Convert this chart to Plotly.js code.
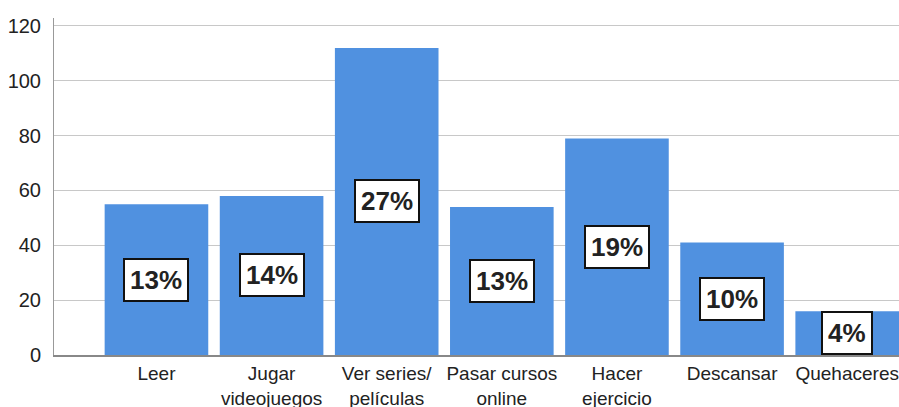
<!DOCTYPE html>
<html><head><meta charset="utf-8">
<script src="https://cdn.plot.ly/plotly-3.0.1.min.js"></script>
<style>html,body{margin:0;padding:0;background:#fff}#chart{width:899px;height:407px}</style>
</head><body><div id="chart"></div>
<script>
const categories = ["Leer","Jugar<br>videojuegos","Ver series/<br>películas","Pasar cursos<br>online","Hacer<br>ejercicio","Descansar","Quehaceres"];
const values = [55, 58, 112, 54, 79, 41, 16];
const percentLabels = ["13%","14%","27%","13%","19%","10%","4%"];
const yTicks = [0,20,40,60,80,100,120];

const trace = {
  type: 'bar', x: categories, y: values,
  marker: {color: '#5091e0'}, hoverinfo: 'none'
};
const annotations = categories.map((c,i)=>({
  x: c, y: values[i]/2, xref:'x', yref:'y', text: '<b>'+percentLabels[i]+'</b>',
  showarrow:false, bgcolor:'#fff', bordercolor:'#111', borderwidth:2, borderpad:5,
  font:{family:'Liberation Sans, Arial, sans-serif', size:26, color:'#222'}
}));
const layout = {
  width: 899, height: 407,
  margin: {l:54, r:0, t:18, b:52},
  paper_bgcolor:'#fff', plot_bgcolor:'#fff',
  bargap: 0.1, showlegend:false,
  xaxis: {type:'category', range:[-0.89, 6.45], showgrid:false, showline:true, linecolor:'#888', linewidth:2,
    ticks:'', tickfont:{family:'Liberation Sans Narrow, Liberation Sans, Arial', size:19, color:'#222'}, fixedrange:true},
  yaxis: {range:[0,122.9], tickvals:yTicks, showgrid:true, gridcolor:'#c8c8c8', gridwidth:1,
    showline:true, linecolor:'#999', linewidth:1, zeroline:false, ticks:'', ticklabelstandoff:8,
    tickfont:{family:'Liberation Sans, Arial', size:20, color:'#222'}, fixedrange:true},
  annotations: annotations
};
Plotly.newPlot('chart',[trace],layout,{displayModeBar:false, staticPlot:true});
</script></body></html>
